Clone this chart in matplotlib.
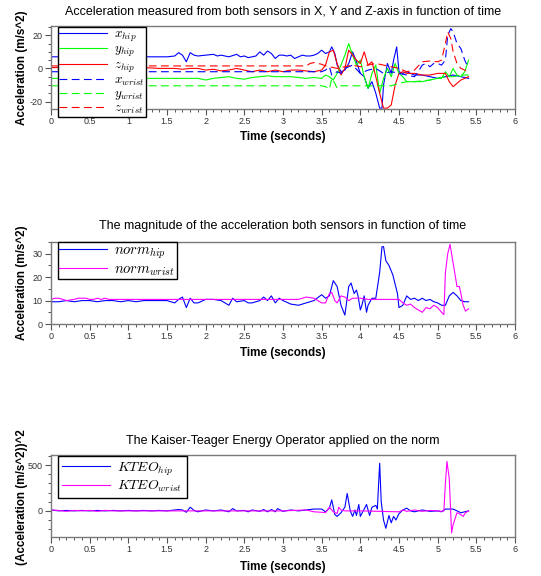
import matplotlib
matplotlib.use('Agg')
import matplotlib.pyplot as plt
from matplotlib.ticker import MultipleLocator

plt.rcParams['font.family'] = ['Liberation Sans', 'DejaVu Sans']
plt.rcParams['mathtext.fontset'] = 'cm'
plt.rcParams['axes.unicode_minus'] = False

# ---------------- data (time s, value) ----------------
X_HIP = [(0, 7), (0.2, 7), (0.4, 7), (0.6, 7), (0.8, 7), (1.0, 7), (1.2, 7), (1.4, 7), (1.5, 7),
         (1.6, 7.5), (1.65, 9.5), (1.7, 8), (1.75, 4), (1.8, 9.5), (1.85, 8), (1.9, 7.5),
         (2.0, 8), (2.1, 8.5), (2.15, 7.5), (2.2, 8), (2.3, 7), (2.4, 8.5), (2.45, 7), (2.5, 7.5),
         (2.55, 6.5), (2.6, 7), (2.65, 7.5), (2.7, 10), (2.75, 8), (2.8, 10.5), (2.85, 9), (2.9, 6),
         (2.95, 8), (3.0, 8), (3.05, 7.5), (3.1, 8), (3.15, 6), (3.2, 7), (3.25, 8), (3.3, 7.5),
         (3.35, 7.5), (3.4, 8), (3.45, 9), (3.5, 11), (3.55, 9), (3.6, 10), (3.63, 13), (3.67, 9),
         (3.7, 2), (3.75, -2), (3.8, -1), (3.85, 3), (3.9, 10), (3.95, 4), (4.0, -3), (4.05, -5),
         (4.1, -12), (4.15, -8), (4.2, -15), (4.25, -24), (4.28, -24), (4.3, -10), (4.35, 3),
         (4.4, -3), (4.43, 5), (4.47, 13), (4.5, -2), (4.55, -3), (4.6, -2), (4.7, -4), (4.8, -4),
         (4.9, -5), (5.0, -6), (5.1, -5), (5.2, -4), (5.3, -5), (5.4, -6)]
Y_HIP = [(0, -6), (0.4, -6), (0.8, -6), (1.2, -6), (1.5, -6), (1.7, -6), (1.9, -6), (2.0, -7),
         (2.1, -6), (2.2, -5.5), (2.3, -5), (2.4, -6), (2.5, -6.5), (2.6, -5.5), (2.7, -5),
         (2.8, -4.5), (2.9, -5), (3.0, -5), (3.1, -5), (3.2, -5.5), (3.3, -6), (3.4, -5.5),
         (3.5, -6), (3.55, -4), (3.6, -5), (3.65, -7), (3.7, -3), (3.75, 2), (3.8, 8), (3.85, 15),
         (3.9, 8), (3.95, 2), (4.0, 5), (4.05, -5), (4.1, -12), (4.15, -3), (4.2, 2), (4.25, -15),
         (4.3, -6), (4.35, 0), (4.4, -5), (4.45, 3), (4.5, -3), (4.55, -5), (4.6, -8), (4.7, -8),
         (4.8, -8), (4.9, -7), (5.0, -6), (5.05, -6), (5.1, -2), (5.15, -5), (5.2, 0), (5.25, -4),
         (5.3, -5), (5.35, -2), (5.4, 5)]
Z_HIP = [(0, 0.5), (0.4, 0.5), (0.8, 0.5), (1.2, 0.5), (1.4, 0), (1.5, 0), (1.6, 0), (1.7, -0.5),
         (1.8, 0), (1.9, 0), (2.0, -1), (2.1, -0.5), (2.2, -1.5), (2.3, -1), (2.4, 0), (2.5, -1),
         (2.6, -2), (2.7, -1), (2.8, -2), (2.9, -1), (3.0, -2), (3.1, -1), (3.2, -1), (3.3, -1.5),
         (3.4, -2), (3.5, -1), (3.55, 2), (3.6, 10), (3.65, 11), (3.7, 3), (3.75, -4), (3.8, 0),
         (3.85, 11), (3.9, 8), (3.95, 5), (4.0, 3), (4.05, 10), (4.1, 2), (4.15, 4), (4.2, -5),
         (4.25, -15), (4.3, -24), (4.35, -24), (4.4, -22), (4.45, -10), (4.5, -3), (4.55, -2),
         (4.6, -3), (4.7, -3), (4.8, -4), (4.9, -4), (5.0, -3), (5.1, -3), (5.15, -8), (5.2, -11),
         (5.25, -9), (5.3, -7), (5.4, -5)]
X_WRIST = [(0, -2), (0.5, -2), (1.0, -2), (1.5, -2), (2.0, -2), (2.5, -2), (3.0, -2), (3.4, -2),
           (3.5, -2), (3.55, -1), (3.6, 1), (3.63, -4), (3.7, -2), (3.75, -3), (3.8, 0), (3.9, 2),
           (4.0, -3), (4.1, -1), (4.2, 0), (4.3, -3), (4.4, -2), (4.5, -3), (4.6, -4), (4.7, -5),
           (4.75, -2), (4.8, 2), (4.85, 3), (4.9, 1), (4.95, 3), (5.0, 3), (5.05, 2), (5.1, 5),
           (5.13, 20), (5.17, 24), (5.2, 22), (5.25, 15), (5.3, 12), (5.35, 5), (5.4, 0)]
Y_WRIST = [(0, -10.5), (1.0, -10.5), (2.0, -10.5), (3.0, -10.5), (3.5, -10.5), (3.55, -11),
           (3.6, -12.5), (3.63, -6), (3.67, -9), (3.7, -12), (3.75, -10.5), (4.0, -10.5),
           (4.3, -10.5), (4.4, -10.5), (4.5, -9), (4.6, -8), (4.7, -8), (4.8, -7.5), (4.9, -7),
           (5.0, -6), (5.1, -5), (5.2, -5), (5.3, -4), (5.4, -4)]
Z_WRIST = [(0, 1.5), (1.0, 1.5), (2.0, 1.5), (3.0, 1.5), (3.3, 1.5), (3.35, 3), (3.4, 3.5),
           (3.45, 3), (3.5, 2.5), (3.55, 1.5), (3.6, 1), (3.7, 0), (3.8, 1), (3.9, 2), (4.0, 1),
           (4.1, 2), (4.2, 3), (4.3, 2), (4.4, 1), (4.5, 0), (4.6, -2), (4.7, -1), (4.8, 4),
           (4.9, 4.5), (5.0, 4), (5.05, 5), (5.1, 15), (5.13, 22), (5.17, 18), (5.2, 10),
           (5.25, 3), (5.3, 0), (5.35, -1), (5.4, -2)]

NORM_HIP = [(0, 9.5), (0.1, 9.5), (0.2, 10), (0.3, 9.5), (0.4, 10), (0.5, 10), (0.6, 9.5), (0.7, 10),
            (0.8, 10), (0.9, 9.5), (1.0, 10), (1.1, 9.5), (1.2, 10), (1.3, 10), (1.4, 10), (1.5, 10),
            (1.55, 9.5), (1.6, 9), (1.65, 10.5), (1.7, 11.5), (1.75, 7), (1.8, 11), (1.85, 9),
            (1.9, 9), (2.0, 10.5), (2.1, 10.5), (2.2, 10), (2.3, 8), (2.35, 11), (2.4, 9.5),
            (2.5, 10), (2.55, 9), (2.6, 9), (2.7, 10), (2.75, 11.5), (2.8, 10), (2.85, 12), (2.9, 9),
            (2.95, 11), (3.0, 10), (3.1, 8.5), (3.2, 8), (3.3, 9), (3.4, 10), (3.5, 12.5),
            (3.55, 11), (3.6, 12), (3.65, 18.5), (3.7, 16), (3.75, 8), (3.8, 3.8), (3.85, 16),
            (3.88, 17.5), (3.92, 13), (3.95, 14.5), (3.97, 12), (4.0, 6), (4.02, 8), (4.05, 12),
            (4.08, 5), (4.1, 8), (4.15, 11), (4.2, 11), (4.25, 22), (4.28, 33), (4.3, 33),
            (4.33, 27), (4.37, 25), (4.42, 21), (4.45, 17), (4.48, 13), (4.5, 7), (4.55, 8),
            (4.6, 12), (4.65, 10.5), (4.7, 11), (4.75, 10), (4.8, 11), (4.85, 10), (4.9, 10.5),
            (4.95, 9.5), (5.0, 9), (5.05, 8), (5.1, 8), (5.15, 12), (5.2, 13.5), (5.25, 12),
            (5.3, 10), (5.35, 9.5), (5.4, 9.5)]
NORM_WRIST = [(0, 10.5), (0.05, 11), (0.1, 11), (0.15, 10.5), (0.2, 10), (0.3, 10.5), (0.35, 11),
              (0.45, 11), (0.5, 10.5), (0.55, 10.5), (0.6, 11), (0.65, 10.5), (0.7, 11), (0.75, 10.5),
              (0.8, 10.5), (1.0, 10.5), (1.5, 10.5), (2.0, 10.5), (2.5, 10.5), (3.0, 10.5),
              (3.2, 10.5), (3.3, 11.5), (3.4, 11), (3.45, 10), (3.5, 9), (3.55, 9), (3.6, 13),
              (3.63, 13.5), (3.67, 10), (3.7, 9), (3.75, 12), (3.8, 11.5), (3.85, 10), (3.9, 11),
              (4.0, 11), (4.1, 10.5), (4.5, 10.5), (4.55, 9), (4.6, 8), (4.65, 8.5), (4.7, 7),
              (4.75, 6), (4.8, 5), (4.85, 7), (4.9, 6.5), (4.95, 8), (5.0, 7), (5.05, 5), (5.08, 4),
              (5.1, 22), (5.13, 30), (5.16, 34), (5.2, 26), (5.25, 16), (5.28, 16), (5.3, 13),
              (5.33, 8), (5.36, 5.5), (5.4, 6.5)]

KTEO_HIP = [(0, 10), (0.1, 0), (0.2, 5), (0.3, 0), (0.4, 5), (0.5, 0), (0.6, 5), (0.7, 0), (0.8, 5),
            (0.9, 0), (1.0, 5), (1.1, 0), (1.2, 5), (1.3, 0), (1.4, 5), (1.5, 0), (1.6, 10),
            (1.65, 15), (1.7, 10), (1.75, -15), (1.8, 40), (1.85, 5), (1.9, -10), (2.0, 10),
            (2.1, 0), (2.2, 10), (2.3, -10), (2.35, 25), (2.4, 0), (2.5, 5), (2.55, -10), (2.6, 10),
            (2.7, -5), (2.75, 15), (2.8, -10), (2.85, 15), (2.9, -10), (2.93, 25), (3.0, -5),
            (3.1, 10), (3.2, 0), (3.3, 10), (3.4, 20), (3.5, 20), (3.55, -10), (3.6, 30),
            (3.63, 120), (3.67, -40), (3.7, -60), (3.75, -20), (3.8, 40), (3.83, 190), (3.87, 0),
            (3.9, -60), (3.93, 10), (3.95, -50), (3.98, 70), (4.0, -60), (4.05, 20), (4.08, 70),
            (4.12, -50), (4.15, 40), (4.2, 60), (4.22, 20), (4.25, 520), (4.27, 100), (4.3, -100),
            (4.33, -190), (4.37, -50), (4.4, -130), (4.43, -60), (4.46, -100), (4.5, -30),
            (4.55, 10), (4.6, 30), (4.65, 0), (4.7, -10), (4.8, 10), (4.9, -5), (5.0, 0),
            (5.05, -10), (5.1, 20), (5.2, 20), (5.3, -20), (5.35, -10), (5.4, 0)]
KTEO_WRIST = [(0, 10), (0.1, 5), (0.2, -5), (0.3, 5), (0.4, 0), (0.5, 5), (0.6, -5), (0.7, 5),
              (0.8, 0), (1.0, 0), (1.5, 0), (2.0, 0), (2.5, 0), (3.0, 0), (3.3, 10), (3.4, -10),
              (3.5, -15), (3.55, -20), (3.6, 40), (3.65, -10), (3.7, -30), (3.72, 40), (3.75, 10),
              (3.8, 0), (4.0, 0), (4.5, -10), (4.55, 10), (4.6, -5), (4.7, 10), (4.8, -5), (4.9, 5),
              (5.0, 0), (5.05, -5), (5.08, 0), (5.1, 300), (5.12, 540), (5.15, 350), (5.18, -240),
              (5.2, -150), (5.25, -20), (5.3, -40), (5.33, -60), (5.36, -20), (5.4, 0)]

TITLES = ["Acceleration measured from both sensors in X, Y and Z-axis in function of time",
          "The magnitude of the acceleration both sensors in function of time",
          "The Kaiser-Teager Energy Operator applied on the norm"]
XLABEL = "Time (seconds)"
YLABELS = ["Acceleration (m/s^2)", "Acceleration (m/s^2)", "(Acceleration (m/s^2))^2"]

# ---------------- figure ----------------
W, H = 541, 576
fig = plt.figure(figsize=(W / 100, H / 100), dpi=100)


def ax_at(l, t, r, b):
    return fig.add_axes([l / W, 1 - b / H, (r - l) / W, (b - t) / H])


def style(ax, ylim, ymaj, ymin):
    ax.set_xlim(0, 6)
    ax.set_ylim(*ylim)
    ax.xaxis.set_major_locator(MultipleLocator(0.5))
    ax.xaxis.set_minor_locator(MultipleLocator(0.1))
    ax.yaxis.set_major_locator(MultipleLocator(ymaj))
    ax.yaxis.set_minor_locator(MultipleLocator(ymin))
    ax.xaxis.set_major_formatter(plt.FuncFormatter(lambda v, p: f"{v:g}"))
    for s in ax.spines.values():
        s.set_color('#7a7a7a')
        s.set_linewidth(1.0)
    ax.tick_params(which='both', direction='out', colors='#555555', labelcolor='#333333',
                   labelsize=6.5, top=False, right=False)
    ax.tick_params(which='major', length=4, width=0.8, pad=2)
    ax.tick_params(which='minor', length=2.5, width=0.7)


def plot(ax, data, color, ls='-'):
    t = [p[0] for p in data]
    v = [p[1] for p in data]
    kw = dict(color=color, lw=0.8)
    if ls == '--':
        kw['dashes'] = (7, 4)
    return ax.plot(t, v, **kw)[0]


ax1 = ax_at(51, 26, 515, 109)
ax2 = ax_at(51, 242, 515, 324)
ax3 = ax_at(51, 455, 515, 537)

h = [plot(ax1, X_HIP, '#0000ff'), plot(ax1, Y_HIP, '#00ff00'), plot(ax1, Z_HIP, '#ff0000'),
     plot(ax1, X_WRIST, '#0000ff', '--'), plot(ax1, Y_WRIST, '#00ff00', '--'),
     plot(ax1, Z_WRIST, '#ff0000', '--')]
style(ax1, (-24.5, 25.6), 20, 5)
lab1 = [r'$x_{hip}$', r'$y_{hip}$', r'$z_{hip}$', r'$x_{wrist}$', r'$y_{wrist}$', r'$z_{wrist}$']

h2 = [plot(ax2, NORM_HIP, '#0000ff'), plot(ax2, NORM_WRIST, '#ff00ff')]
style(ax2, (0, 35), 10, 5)
lab2 = [r'$norm_{hip}$', r'$norm_{wrist}$']

h3 = [plot(ax3, KTEO_HIP, '#0000ff'), plot(ax3, KTEO_WRIST, '#ff00ff')]
style(ax3, (-285, 610), 500, 100)
lab3 = [r'$KTEO_{hip}$', r'$KTEO_{wrist}$']


def legend(ax, handles, labels, anchor, fs, spacing, pad):
    leg = ax.legend(handles, labels, loc='upper left', bbox_to_anchor=anchor,
                    fancybox=False, framealpha=1, edgecolor='black', fontsize=fs,
                    handlelength=48 / (fs * 100 / 72), handletextpad=7 / (fs * 100 / 72),
                    labelspacing=spacing, borderpad=pad, borderaxespad=0)
    leg.get_frame().set_linewidth(1.0)
    leg.set_zorder(10)
    return leg


def anchor(ax_l, ax_t, ax_r, ax_b, x, y):
    return ((x - ax_l) / (ax_r - ax_l), 1 - (y - ax_t) / (ax_b - ax_t))


legend(ax1, h, lab1, anchor(51, 26, 515, 109, 58, 27), 9.5, 0.0, 0.1)
legend(ax2, h2, lab2, anchor(51, 242, 515, 324, 58, 242), 10.5, 0.1, 0.1)
legend(ax3, h3, lab3, anchor(51, 455, 515, 537, 58, 456), 10, 0.1, 0.3)

cx = 283 / W
for title, ty in zip(TITLES, [12, 226, 441]):
    fig.text(cx, 1 - ty / H, title, ha='center', va='center', fontsize=9)
for ly in [137, 353, 567]:
    fig.text(cx, 1 - ly / H, XLABEL, ha='center', va='center', fontsize=8.4,
             fontweight='bold')
for lab, cy in zip(YLABELS, [67.5, 283, 497]):
    fig.text(22 / W, 1 - cy / H, lab, ha='center', va='center', rotation=90, fontsize=8.4,
             fontweight='bold')

fig.savefig('out.png', dpi=100)
